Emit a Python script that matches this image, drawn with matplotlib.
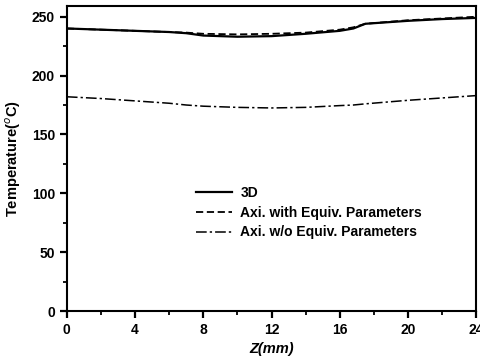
import numpy as np
import matplotlib.pyplot as plt
from matplotlib.ticker import MultipleLocator

# Data
z = [0, 2, 4, 6, 7, 8, 10, 12, 14, 16, 16.8, 17.5, 20, 22, 24]
t_3d = [240, 239, 238, 237, 236, 234, 233, 233.5, 235.5, 238, 240, 244, 246.5, 248, 249]
t_axi_eq = [240, 239, 238, 237, 236.5, 235.5, 235, 235.5, 236.5, 239, 241, 244, 247, 248.5, 250]
t_axi_noeq = [182, 180.5, 178.5, 176.5, 175, 174, 173, 172.5, 173, 174.5, 175, 176, 179, 181, 183]

plt.rcParams['font.family'] = ['Liberation Sans', 'DejaVu Sans']

fig = plt.figure(figsize=(4.81, 3.6), dpi=100)
ax = fig.add_axes([0.139, 0.136, 0.851, 0.847])

ax.plot(z, t_3d, color='black', lw=1.6, ls='-', label='3D')
ax.plot(z, t_axi_eq, color='black', lw=1.3, ls=(0, (4, 2)), label='Axi. with Equiv. Parameters')
ax.plot(z, t_axi_noeq, color='black', lw=1.1, ls=(0, (7, 2, 1.5, 2)), label='Axi. w/o Equiv. Parameters')

ax.set_xlim(0, 24)
ax.set_ylim(0, 259)
ax.xaxis.set_major_locator(MultipleLocator(4))
ax.xaxis.set_minor_locator(MultipleLocator(2))
ax.yaxis.set_major_locator(MultipleLocator(50))
ax.yaxis.set_minor_locator(MultipleLocator(25))
ax.tick_params(which='major', direction='out', length=5, width=1.6, labelsize=10)
ax.tick_params(which='minor', direction='out', length=3, width=1.3)
for lab in ax.get_xticklabels() + ax.get_yticklabels():
    lab.set_fontweight('bold')
for s in ax.spines.values():
    s.set_linewidth(1.5)

ax.set_xlabel('Z(mm)', fontsize=10.5, fontweight='bold', style='italic', labelpad=4)
ax.set_ylabel('Temperature($^o$C)', fontsize=10.5, fontweight='bold', labelpad=6)

leg = ax.legend(loc='upper left', bbox_to_anchor=(0.285, 0.45), frameon=False,
                prop={'size': 10, 'weight': 'bold'}, handlelength=2.6,
                labelspacing=0.4, handletextpad=0.6)

fig.savefig('out.png', dpi=100)
